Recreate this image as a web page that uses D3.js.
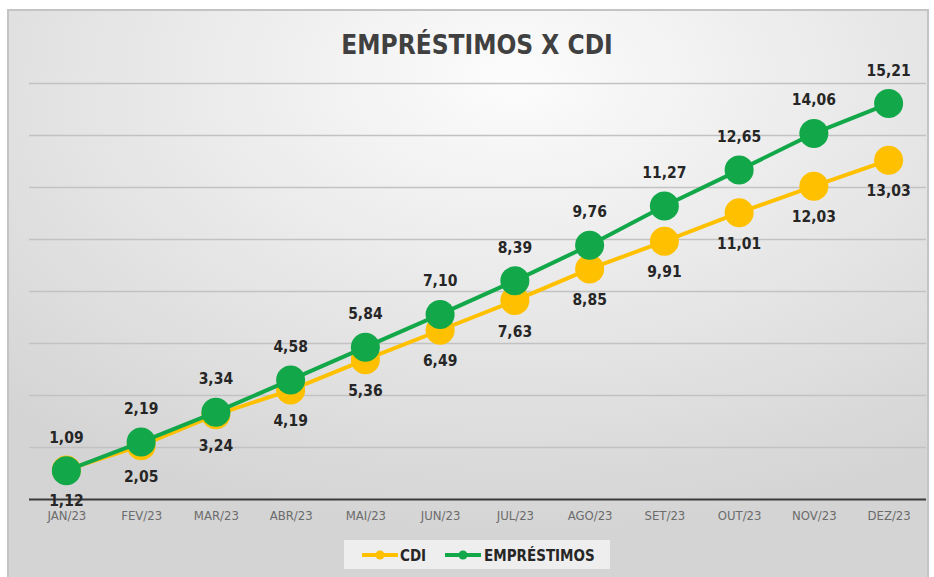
<!DOCTYPE html>
<html>
<head>
<meta charset="utf-8">
<script src="https://cdn.jsdelivr.net/npm/d3@7"></script>
<style>
  body { margin: 0; background: #ffffff; }
  svg { display: block; }
  text { font-family: "Liberation Sans Narrow", "DejaVu Sans Condensed", "Roboto", sans-serif; }
</style>
</head>
<body>
<svg id="chart"></svg>
<script>
// chart size
var width = 934;
var height = 577;

// data
var months = ["JAN/23", "FEV/23", "MAR/23", "ABR/23", "MAI/23", "JUN/23",
              "JUL/23", "AGO/23", "SET/23", "OUT/23", "NOV/23", "DEZ/23"];
var cdi = [1.12, 2.05, 3.24, 4.19, 5.36, 6.49, 7.63, 8.85, 9.91, 11.01, 12.03, 13.03];
var emprestimos = [1.09, 2.19, 3.34, 4.58, 5.84, 7.10, 8.39, 9.76, 11.27, 12.65, 14.06, 15.21];
var yTicks = [0, 2, 4, 6, 8, 10, 12, 14, 16];

var series = [
    { name: "CDI", values: cdi, color: "#ffc000", labelDy: 36 },
    { name: "EMPRÉSTIMOS", values: emprestimos, color: "#12a84a", labelDy: -28 }
];

var plot = { left: 29, right: 926, top: 83, bottom: 499 };

var svg = d3.select("#chart")
    .attr("width", width)
    .attr("height", height);

// background gradient
var defs = svg.append("defs");
var grad = defs.append("radialGradient")
    .attr("id", "bg")
    .attr("cx", "55%").attr("cy", "12%").attr("r", "80%");
grad.append("stop").attr("offset", "0%").attr("stop-color", "#fcfcfc");
grad.append("stop").attr("offset", "100%").attr("stop-color", "#d4d4d4");

svg.append("rect")
    .attr("x", 8).attr("y", 10)
    .attr("width", 920).attr("height", 570)
    .attr("fill", "url(#bg)")
    .attr("stroke", "#c4c4c4")
    .attr("stroke-width", 2);

// title
svg.append("text")
    .attr("x", 477).attr("y", 54)
    .attr("text-anchor", "middle")
    .attr("font-size", 26)
    .attr("font-weight", "bold")
    .attr("fill", "#404040")
    .text("EMPRÉSTIMOS X CDI");

var x = d3.scalePoint()
    .domain(months)
    .range([plot.left, plot.right])
    .padding(0.5);

var y = d3.scaleLinear()
    .domain([0, 16])
    .range([plot.bottom, plot.top]);

// gridlines
var grid = svg.append("g")
    .attr("transform", "translate(" + plot.left + ",0)")
    .call(d3.axisLeft(y).tickValues(yTicks).tickSize(-(plot.right - plot.left)).tickFormat(""));
grid.select(".domain").remove();
grid.selectAll(".tick line")
    .attr("stroke", function (d) { return d === 0 ? "#3a3a3a" : "#c2c2c2"; })
    .attr("stroke-width", function (d) { return d === 0 ? 2 : 1.5; });

// x axis labels
var xAxis = svg.append("g")
    .attr("transform", "translate(0," + plot.bottom + ")")
    .call(d3.axisBottom(x).tickSize(0).tickPadding(12));
xAxis.select(".domain").remove();
xAxis.selectAll("text")
    .attr("font-size", 13)
    .attr("fill", "#6b6b6b")
    .style("font-family", "'Liberation Sans Narrow', 'DejaVu Sans Condensed', sans-serif");

var line = d3.line()
    .x(function (d, i) { return x(months[i]); })
    .y(function (d) { return y(d); });

series.forEach(function (s) {
    var g = svg.append("g");
    g.append("path")
        .datum(s.values)
        .attr("fill", "none")
        .attr("stroke", s.color)
        .attr("stroke-width", 4)
        .attr("d", line);
    g.selectAll("circle")
        .data(s.values)
        .enter()
        .append("circle")
        .attr("cx", function (d, i) { return x(months[i]); })
        .attr("cy", function (d) { return y(d); })
        .attr("r", 14.5)
        .attr("fill", s.color);
});

// data labels on top
series.forEach(function (s) {
    svg.append("g").selectAll("text")
        .data(s.values)
        .enter()
        .append("text")
        .attr("x", function (d, i) { return x(months[i]); })
        .attr("y", function (d) { return y(d) + s.labelDy; })
        .attr("text-anchor", "middle")
        .attr("font-size", 15.5)
        .attr("font-weight", "bold")
        .attr("fill", "#262626")
        .text(function (d) { return d.toFixed(2).replace(".", ","); });
});

// legend
var legend = svg.append("g");
legend.append("rect")
    .attr("x", 344).attr("y", 540)
    .attr("width", 266).attr("height", 29)
    .attr("fill", "#eeeeee");

var legendItems = [
    { s: series[0], x0: 362, tx: 400 },
    { s: series[1], x0: 445, tx: 484 }
];
legendItems.forEach(function (it) {
    legend.append("line")
        .attr("x1", it.x0).attr("x2", it.x0 + 36)
        .attr("y1", 555).attr("y2", 555)
        .attr("stroke", it.s.color)
        .attr("stroke-width", 4);
    legend.append("circle")
        .attr("cx", it.x0 + 18).attr("cy", 555)
        .attr("r", 4.5)
        .attr("fill", it.s.color);
    legend.append("text")
        .attr("x", it.tx).attr("y", 560.5)
        .attr("font-size", 15)
        .attr("font-weight", "bold")
        .attr("fill", "#262626")
        .text(it.s.name);
});
</script>
</body>
</html>
